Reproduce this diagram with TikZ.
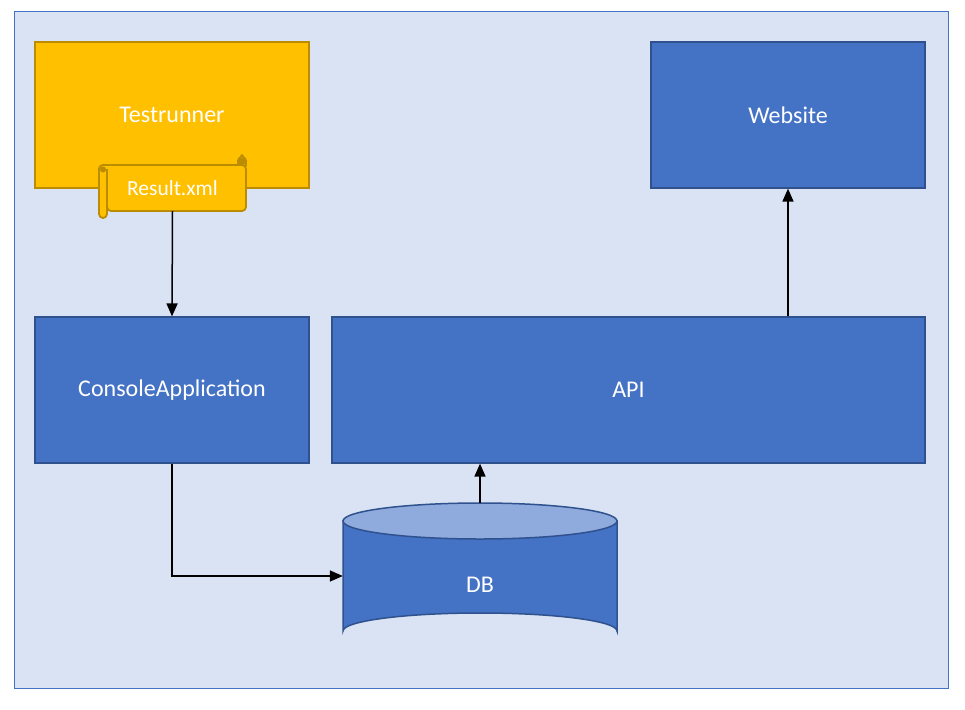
\documentclass[tikz,border=0pt]{standalone}
\usepackage{fontspec}
\setmainfont{Carlito}
\usetikzlibrary{arrows.meta}
\definecolor{panelfill}{HTML}{DAE3F3}
\definecolor{blueshape}{HTML}{4472C4}
\definecolor{blueedge}{HTML}{2F528F}
\definecolor{bluetop}{HTML}{8FAADC}
\definecolor{goldshape}{HTML}{FFC000}
\definecolor{goldedge}{HTML}{BC8C00}
\tikzset{
    bluebox/.style={rectangle, draw=blueedge, fill=blueshape, line width=1.2pt, text=white, font=\fontsize{24}{28}\selectfont, inner sep=0pt},
    flow/.style={-{Triangle[length=13pt,width=11pt]}, black, line width=1.5pt},
    scrollpart/.style={draw=goldedge, fill=goldshape, line width=1.8pt, line join=round}
}
\begin{document}
\begin{tikzpicture}[x=1pt,y=-1pt]
    \useasboundingbox (0,0) rectangle (965,709);
    % Panel
    \draw[blueshape, fill=panelfill, line width=1pt] (14,12) rectangle (948,688);
    % Boxes
    \node[bluebox, draw=goldedge, fill=goldshape, minimum width=274pt, minimum height=146pt] (testrunner) at (172,115) {Testrunner};
    \node[bluebox, minimum width=274pt, minimum height=146pt] (website) at (788,115) {Website};
    \node[bluebox, minimum width=274pt, minimum height=146pt] (console) at (172,390) {ConsoleApplication};
    \node[bluebox, minimum width=593pt, minimum height=146pt] (api) at (628.5,390) {API};
    % Scroll
    \draw[scrollpart] (238,166) -- (238,161) arc[start angle=180, end angle=360, radius=4] -- (246,166) -- cycle;
    \draw[scrollpart] (242,155) -- (246,161) -- (238,161) -- cycle;
    \draw[scrollpart, rounded corners=4pt] (99,172) -- (99,165) -- (246,165) -- (246,211) -- (107,211) -- (107,172) -- cycle;
    \draw[scrollpart, rounded corners=4pt] (99,169) -- (99,218) -- (107,218) -- (107,169);
    \fill[goldedge] (103,169.5) circle (3pt);
    \fill[goldedge] (242,161.5) circle (4pt);
    \node[rectangle, text=white, font=\fontsize{21.5}{26}\selectfont, minimum width=147pt, minimum height=46pt, inner sep=0pt] (result) at (172.5,188) {Result.xml};
    % DB
    \draw[draw=blueedge, fill=blueshape, line width=1.5pt] (343,521) -- (343,631) arc[start angle=180, end angle=360, x radius=137, y radius=18] -- (617,521) -- cycle;
    \draw[draw=blueedge, fill=bluetop, line width=1.5pt] (480,521) ellipse [x radius=137, y radius=18];
    \node[rectangle, text=white, font=\fontsize{24}{28}\selectfont, minimum width=274pt, minimum height=146pt, inner sep=0pt] (db) at (480,576) {};
    \node[text=white, font=\fontsize{24}{28}\selectfont, inner sep=0pt] (dblabel) at (480,585) {DB};
    % Connectors
    \draw[flow] (result.south) -- (console.north);
    \draw[flow] (console.south) |- (db.west);
    \draw[flow] (db.north) -- (db.north |- api.south);
    \draw[flow] (website.south |- api.north) -- (website.south);
\end{tikzpicture}
\end{document}
